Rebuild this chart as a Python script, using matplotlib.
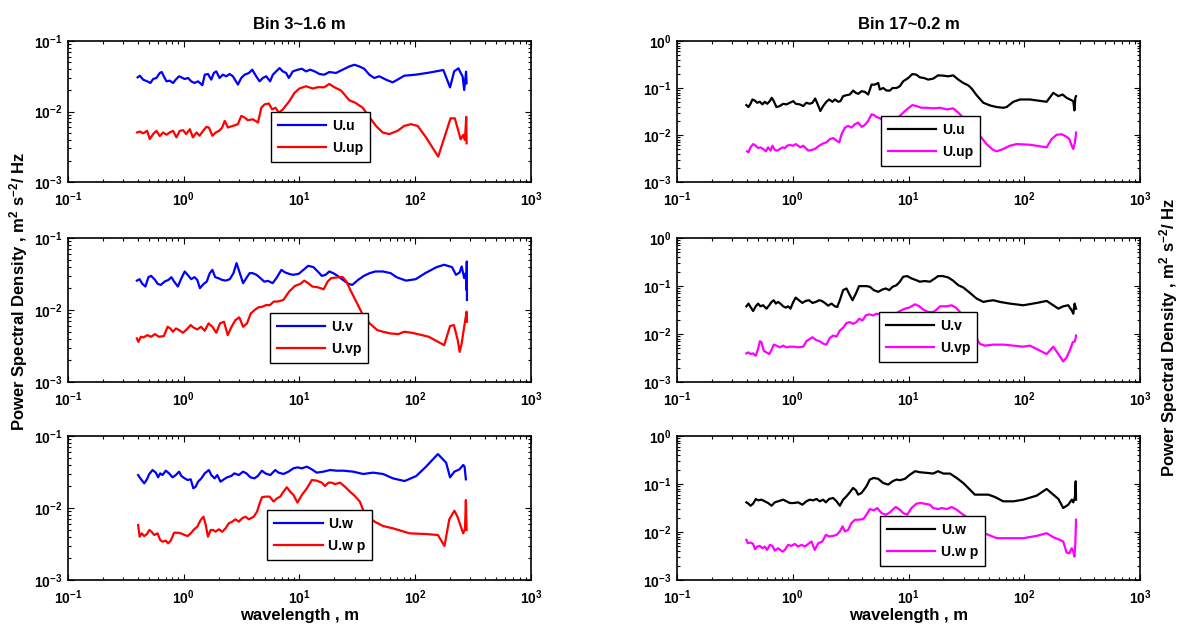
import matplotlib
matplotlib.use('Agg')
import matplotlib.pyplot as plt

plt.rcParams['font.family'] = ['Liberation Sans', 'DejaVu Sans']
plt.rcParams['font.weight'] = 'bold'
plt.rcParams['mathtext.fontset'] = 'custom'
plt.rcParams['mathtext.rm'] = 'Liberation Sans:bold'
plt.rcParams['mathtext.it'] = 'Liberation Sans:bold'
plt.rcParams['mathtext.bf'] = 'Liberation Sans:bold'
plt.rcParams['mathtext.sf'] = 'Liberation Sans:bold'
plt.rcParams['mathtext.default'] = 'rm'
plt.rcParams['axes.unicode_minus'] = False

# ---- Bin 3 (1.6 m) ----
uu_x = [0.40, 0.418, 0.446, 0.483, 0.516, 0.544, 0.581, 0.621, 0.646, 0.673,
        0.710, 0.757, 0.809, 0.853, 0.912, 0.955, 1.02, 1.09, 1.16, 1.24,
        1.33, 1.45, 1.52, 1.62, 1.73, 1.82, 1.91, 2.04, 2.18, 2.33,
        2.49, 2.66, 2.94, 3.14, 3.36, 3.66, 3.91, 4.23, 4.52, 4.83,
        5.16, 5.58, 5.89, 6.29, 6.73, 7.18, 7.67, 8.09, 8.77, 9.68,
        10.5, 11.4, 12.4, 13.5, 14.9, 16.4, 18.1, 20.7, 23.6, 27.0,
        29.8, 32.9, 36.3, 40.1, 44.3, 48.9, 55.9, 63.8, 70.4, 80.4,
        101, 132, 175, 200, 217, 236, 257, 265, 275, 278]
uu_y = [0.0305, 0.0322, 0.0283, 0.0268, 0.0254, 0.0289, 0.0299, 0.0352, 0.0363, 0.0316,
        0.0268, 0.0274, 0.0254, 0.0283, 0.0316, 0.0305, 0.0289, 0.0299, 0.0268, 0.0254,
        0.0268, 0.0236, 0.0333, 0.0340, 0.0283, 0.0352, 0.0371, 0.0299, 0.0333, 0.0316,
        0.0340, 0.0316, 0.0241, 0.0299, 0.0333, 0.0352, 0.0392, 0.0316, 0.0268, 0.0299,
        0.0316, 0.0268, 0.0333, 0.0371, 0.0413, 0.0371, 0.0352, 0.0299, 0.0371, 0.0392,
        0.0404, 0.0371, 0.0392, 0.0371, 0.0340, 0.0333, 0.0363, 0.0352, 0.0392, 0.0436,
        0.0460, 0.0436, 0.0404, 0.0333, 0.0299, 0.0316, 0.0283, 0.0259, 0.0283, 0.0322,
        0.0333, 0.0356, 0.0388, 0.0220, 0.0371, 0.0410, 0.0312, 0.0202, 0.0367, 0.0251]

uup_x = [0.396, 0.418, 0.446, 0.483, 0.509, 0.544, 0.581, 0.621, 0.664, 0.710,
         0.757, 0.809, 0.865, 0.924, 0.987, 1.05, 1.13, 1.20, 1.29, 1.37,
         1.47, 1.57, 1.65, 1.77, 1.89, 2.02, 2.15, 2.26, 2.41, 2.66,
         2.94, 3.14, 3.36, 3.59, 3.96, 4.38, 4.68, 4.99, 5.44, 5.81,
         6.21, 6.64, 7.18, 8.20, 9.06, 10.0, 11.4, 13.0, 14.4, 16.4,
         18.1, 20.0, 22.9, 27.0, 30.4, 35.2, 40.1, 45.8, 52.3, 59.7,
         70.4, 80.4, 91.8, 105, 124, 158, 202, 220, 247, 260,
         269, 276, 278]
uup_y = [0.00504, 0.00521, 0.00489, 0.00532, 0.00406, 0.00478, 0.00532, 0.00448, 0.00504, 0.00468,
         0.00504, 0.00532, 0.00429, 0.00532, 0.00543, 0.00478, 0.00561, 0.00429, 0.00504, 0.00453,
         0.00532, 0.00605, 0.00593, 0.00453, 0.00504, 0.00532, 0.00593, 0.00736, 0.00593, 0.00625,
         0.00661, 0.00865, 0.00819, 0.00752, 0.00776, 0.00697, 0.0113, 0.0126, 0.0130, 0.0107,
         0.0113, 0.00964, 0.0107, 0.0141, 0.0184, 0.0212, 0.0228, 0.0212, 0.0221, 0.0221,
         0.0246, 0.0221, 0.0198, 0.0144, 0.0133, 0.0113, 0.00837, 0.00625, 0.00504, 0.00478,
         0.00532, 0.00625, 0.00661, 0.00625, 0.00429, 0.00229, 0.0080, 0.0080, 0.00404, 0.00465,
         0.00394, 0.0084, 0.00354]

uv_x = [0.394, 0.416, 0.439, 0.467, 0.496, 0.523, 0.565, 0.596, 0.633, 0.683,
        0.738, 0.783, 0.826, 0.891, 0.941, 1.02, 1.10, 1.16, 1.24, 1.31,
        1.38, 1.49, 1.58, 1.68, 1.77, 1.87, 1.99, 2.14, 2.31, 2.50,
        2.69, 2.86, 3.02, 3.26, 3.52, 3.71, 3.94, 4.26, 4.60, 4.96,
        5.35, 5.86, 6.32, 6.98, 7.53, 8.14, 8.79, 9.84, 11.0, 11.9,
        13.2, 14.4, 15.6, 16.8, 18.1, 19.6, 21.4, 23.7, 26.5, 28.6,
        32.1, 36.0, 40.4, 45.3, 52.7, 61.4, 68.9, 83.3, 101, 122,
        153, 178, 208, 225, 242, 252, 265, 274, 277, 279, 280]
uv_y = [0.0256, 0.0268, 0.0231, 0.0212, 0.0286, 0.0298, 0.0262, 0.0231, 0.0223, 0.0248,
        0.0262, 0.0286, 0.0248, 0.0212, 0.0262, 0.0343, 0.0298, 0.0268, 0.0286, 0.0262,
        0.0201, 0.0231, 0.0248, 0.0325, 0.0361, 0.0286, 0.0277, 0.0262, 0.0256, 0.0268,
        0.0325, 0.0448, 0.0343, 0.0236, 0.0286, 0.0325, 0.0325, 0.0308, 0.0277, 0.0248,
        0.0254, 0.0236, 0.0277, 0.0361, 0.0332, 0.0318, 0.0308, 0.0318, 0.0369, 0.0411,
        0.0394, 0.0343, 0.0298, 0.0308, 0.0343, 0.0325, 0.0298, 0.0262, 0.0231, 0.0223,
        0.0262, 0.0298, 0.0325, 0.0343, 0.0343, 0.0325, 0.0286, 0.0256, 0.0268, 0.0325,
        0.0394, 0.0425, 0.0394, 0.0308, 0.0332, 0.0403, 0.0277, 0.0325, 0.0190, 0.0472, 0.0138]

uvp_x = [0.394, 0.406, 0.426, 0.449, 0.485, 0.523, 0.565, 0.610, 0.673, 0.726,
         0.766, 0.807, 0.858, 0.913, 0.984, 1.06, 1.15, 1.21, 1.31, 1.41,
         1.52, 1.64, 1.77, 1.91, 2.06, 2.23, 2.40, 2.59, 2.80, 3.02,
         3.26, 3.52, 3.80, 4.10, 4.42, 4.77, 5.15, 5.56, 6.00, 6.47,
         7.26, 8.14, 9.13, 10.2, 11.0, 11.9, 12.9, 14.4, 16.2, 17.5,
         18.8, 21.9, 23.7, 25.5, 27.5, 30.9, 36.0, 40.4, 47.0, 52.7,
         61.4, 71.5, 80.2, 93.3, 105, 131, 178, 200, 216, 233,
         242, 252, 265, 278, 280]
uvp_y = [0.00403, 0.00361, 0.00425, 0.00416, 0.00448, 0.00425, 0.00463, 0.00425, 0.00434, 0.00585,
         0.00555, 0.00499, 0.00555, 0.00526, 0.00483, 0.00537, 0.00618, 0.00573, 0.00537, 0.00585,
         0.00515, 0.00652, 0.00585, 0.00483, 0.00652, 0.00687, 0.00448, 0.00585, 0.00725, 0.00791,
         0.00585, 0.00652, 0.00898, 0.0100, 0.0109, 0.0111, 0.0117, 0.0117, 0.0131, 0.0131,
         0.0138, 0.0180, 0.0216, 0.0231, 0.0256, 0.0236, 0.0212, 0.0207, 0.0194, 0.0248,
         0.0277, 0.0286, 0.0286, 0.0248, 0.0190, 0.0131, 0.00807, 0.00652, 0.00526, 0.00499,
         0.00472, 0.00463, 0.00499, 0.00483, 0.00463, 0.00425, 0.00325, 0.00598, 0.00618, 0.00381,
         0.00262, 0.00343, 0.00585, 0.00948, 0.00687]

uw_x = [0.404, 0.416, 0.433, 0.456, 0.481, 0.504, 0.538, 0.574, 0.601, 0.626,
        0.656, 0.700, 0.748, 0.800, 0.854, 0.912, 0.955, 1.02, 1.08, 1.15,
        1.21, 1.27, 1.33, 1.42, 1.52, 1.65, 1.73, 1.85, 1.95, 2.08,
        2.22, 2.37, 2.57, 2.74, 2.99, 3.26, 3.48, 3.77, 4.08, 4.36,
        4.74, 5.07, 5.60, 6.18, 6.60, 7.28, 8.04, 8.87, 9.61, 10.5,
        11.6, 12.8, 14.1, 16.1, 18.4, 20.9, 23.9, 29.1, 35.5, 43.3,
        52.7, 64.3, 80.9, 102, 124, 157, 185, 200, 218, 241,
        260, 267, 274]
uw_y = [0.0287, 0.0267, 0.0245, 0.0220, 0.0250, 0.0297, 0.0337, 0.0310, 0.0267, 0.0303,
        0.0287, 0.0330, 0.0303, 0.0267, 0.0287, 0.0320, 0.0278, 0.0258, 0.0245, 0.0250,
        0.0188, 0.0198, 0.0232, 0.0258, 0.0303, 0.0337, 0.0287, 0.0258, 0.0287, 0.0232,
        0.0250, 0.0267, 0.0278, 0.0303, 0.0287, 0.0320, 0.0303, 0.0267, 0.0258, 0.0278,
        0.0330, 0.0303, 0.0287, 0.0337, 0.0310, 0.0297, 0.0320, 0.0356, 0.0367, 0.0356,
        0.0375, 0.0344, 0.0310, 0.0320, 0.0337, 0.0330, 0.0330, 0.0320, 0.0297, 0.0310,
        0.0297, 0.0258, 0.0237, 0.0278, 0.0375, 0.0562, 0.0426, 0.0267, 0.0320, 0.0344,
        0.0396, 0.0375, 0.0250]

uwp_x = [0.404, 0.416, 0.433, 0.456, 0.481, 0.504, 0.527, 0.556, 0.594, 0.626,
         0.656, 0.700, 0.733, 0.773, 0.826, 0.883, 0.943, 1.02, 1.08, 1.15,
         1.23, 1.31, 1.40, 1.48, 1.55, 1.62, 1.71, 1.80, 1.88, 2.01,
         2.15, 2.30, 2.45, 2.62, 2.80, 2.99, 3.19, 3.41, 3.65, 4.03,
         4.30, 4.53, 4.74, 5.07, 5.52, 5.98, 6.38, 6.82, 7.28, 7.78,
         8.31, 8.87, 9.61, 10.5, 11.6, 12.8, 14.1, 15.6, 16.6, 17.8,
         19.0, 20.3, 22.4, 24.7, 27.3, 30.1, 33.2, 36.0, 39.2, 44.7,
         52.7, 64.3, 89.3, 124, 157, 179, 197, 218, 233, 248,
         260, 269, 274, 278]
uwp_y = [0.00581, 0.00400, 0.00445, 0.00408, 0.00435, 0.00495, 0.00469, 0.00422, 0.00445, 0.00360,
         0.00341, 0.00352, 0.00323, 0.00352, 0.00454, 0.00454, 0.00445, 0.00422, 0.00408, 0.00445,
         0.00506, 0.00551, 0.00681, 0.00758, 0.00581, 0.00400, 0.00495, 0.00495, 0.00469, 0.00506,
         0.00469, 0.00522, 0.00612, 0.00646, 0.00697, 0.00646, 0.00718, 0.00758, 0.00697, 0.00758,
         0.00889, 0.0116, 0.0141, 0.0144, 0.0144, 0.0123, 0.0136, 0.0144, 0.0169, 0.0194,
         0.0169, 0.0152, 0.0119, 0.0152, 0.0188, 0.0245, 0.0240, 0.0225, 0.0202, 0.0225,
         0.0225, 0.0215, 0.0225, 0.0198, 0.0169, 0.0147, 0.0123, 0.00889, 0.00758, 0.00646,
         0.00562, 0.00522, 0.00445, 0.00435, 0.00422, 0.00297, 0.00697, 0.00918, 0.00742, 0.00551,
         0.00445, 0.00506, 0.0129, 0.00495]

# ---- Bin 17 (0.2 m) ----
su_x = [0.397, 0.414, 0.431, 0.448, 0.469, 0.492, 0.519, 0.547, 0.573, 0.600,
        0.633, 0.658, 0.685, 0.722, 0.772, 0.825, 0.882, 0.942, 1.01, 1.06,
        1.15, 1.23, 1.31, 1.40, 1.48, 1.56, 1.62, 1.73, 1.83, 1.95,
        2.06, 2.20, 2.31, 2.47, 2.58, 2.72, 2.91, 3.11, 3.32, 3.51,
        3.67, 3.93, 4.19, 4.48, 4.79, 5.12, 5.47, 5.65, 6.04, 6.45,
        6.90, 7.28, 7.87, 8.41, 8.99, 9.93, 10.8, 11.7, 12.5, 13.6,
        14.8, 16.3, 18.0, 20.0, 22.0, 24.3, 26.9, 29.7, 32.8, 35.1,
        38.7, 44.3, 50.5, 57.7, 65.8, 70.3, 80.4, 91.8, 112, 156,
        178, 197, 214, 232, 248, 265, 271, 276, 280]
su_y = [0.0433, 0.0393, 0.0462, 0.0570, 0.0543, 0.0485, 0.0509, 0.0448, 0.0509, 0.0462,
        0.0526, 0.0618, 0.0526, 0.0393, 0.0413, 0.0462, 0.0448, 0.0485, 0.0526, 0.0462,
        0.0448, 0.0413, 0.0485, 0.0462, 0.0485, 0.0598, 0.0485, 0.0324, 0.0413, 0.0509,
        0.0570, 0.0509, 0.0570, 0.0509, 0.0526, 0.0670, 0.0704, 0.0727, 0.0883, 0.0788,
        0.0751, 0.0855, 0.0828, 0.0727, 0.118, 0.118, 0.128, 0.0927, 0.100, 0.0883,
        0.0883, 0.100, 0.100, 0.109, 0.139, 0.163, 0.198, 0.192, 0.169, 0.163,
        0.151, 0.158, 0.186, 0.183, 0.177, 0.186, 0.151, 0.128, 0.114, 0.0973,
        0.0704, 0.0485, 0.0426, 0.0393, 0.0380, 0.0393, 0.0509, 0.0570, 0.0570, 0.0509,
        0.0788, 0.0670, 0.0727, 0.0618, 0.0570, 0.0526, 0.0334, 0.0618, 0.0670]

sup_x = [0.403, 0.414, 0.431, 0.454, 0.479, 0.501, 0.525, 0.554, 0.585, 0.612,
         0.642, 0.667, 0.699, 0.733, 0.772, 0.815, 0.853, 0.894, 0.942, 1.01,
         1.06, 1.11, 1.16, 1.23, 1.29, 1.36, 1.45, 1.55, 1.69, 1.83,
         1.95, 2.09, 2.23, 2.39, 2.52, 2.64, 2.82, 3.01, 3.21, 3.44,
         3.67, 3.93, 4.19, 4.48, 4.79, 5.01, 5.28, 5.65, 6.04, 6.45,
         6.90, 7.36, 7.87, 8.41, 8.99, 9.93, 10.8, 11.7, 12.9, 14.3,
         16.3, 18.7, 21.3, 24.3, 26.9, 29.7, 32.8, 36.2, 41.4, 47.2,
         54.0, 57.7, 65.8, 75.2, 85.9, 112, 156, 172, 190, 210,
         232, 245, 257, 265, 274, 280]
sup_y = [0.00450, 0.00428, 0.00546, 0.00641, 0.00592, 0.00528, 0.00546, 0.00503, 0.00450, 0.00546,
         0.00465, 0.00592, 0.00480, 0.00465, 0.00503, 0.00546, 0.00528, 0.00592, 0.00611, 0.00592,
         0.00641, 0.00592, 0.00546, 0.00592, 0.00528, 0.00465, 0.00480, 0.00503, 0.00592, 0.00663,
         0.00697, 0.00818, 0.00859, 0.00755, 0.00697, 0.0104, 0.0144, 0.0156, 0.0144, 0.0169,
         0.0184, 0.0149, 0.0164, 0.0199, 0.0275, 0.0267, 0.0242, 0.0227, 0.0206, 0.0193,
         0.0175, 0.0206, 0.0227, 0.0254, 0.0299, 0.0369, 0.0433, 0.0413, 0.0380, 0.0380,
         0.0369, 0.0380, 0.0351, 0.0369, 0.0299, 0.0234, 0.0193, 0.0149, 0.00962, 0.00641,
         0.00480, 0.00450, 0.00503, 0.00592, 0.00641, 0.00621, 0.00546, 0.00818, 0.0101, 0.0104,
         0.00916, 0.00818, 0.00592, 0.00503, 0.00697, 0.0113]

sv_x = [0.397, 0.414, 0.431, 0.454, 0.479, 0.501, 0.525, 0.554, 0.592, 0.626,
        0.655, 0.685, 0.713, 0.746, 0.782, 0.825, 0.869, 0.911, 0.955, 1.01,
        1.06, 1.13, 1.21, 1.29, 1.38, 1.48, 1.58, 1.69, 1.78, 1.89,
        2.02, 2.16, 2.31, 2.42, 2.55, 2.72, 2.91, 3.11, 3.28, 3.51,
        3.74, 4.00, 4.33, 4.63, 5.01, 5.47, 5.96, 6.37, 6.80, 7.28,
        7.87, 8.41, 8.99, 9.73, 10.6, 11.6, 12.5, 13.8, 15.3, 16.9,
        18.0, 19.7, 22.0, 24.3, 26.9, 29.7, 33.9, 38.7, 44.3, 48.9,
        54.0, 61.7, 75.2, 98.0, 128, 156, 178, 197, 217, 240,
        257, 265, 272, 280]
sv_y = [0.0378, 0.0430, 0.0366, 0.0301, 0.0378, 0.0430, 0.0378, 0.0397, 0.0337, 0.0397,
        0.0466, 0.0505, 0.0430, 0.0466, 0.0430, 0.0378, 0.0354, 0.0378, 0.0337, 0.0466,
        0.0575, 0.0505, 0.0444, 0.0489, 0.0505, 0.0444, 0.0466, 0.0505, 0.0489, 0.0444,
        0.0390, 0.0430, 0.0378, 0.0366, 0.0505, 0.0820, 0.0889, 0.0644, 0.0505, 0.0698,
        0.0995, 0.0995, 0.0995, 0.0963, 0.0820, 0.0756, 0.0847, 0.0889, 0.0820, 0.0963,
        0.104, 0.123, 0.156, 0.161, 0.144, 0.133, 0.123, 0.127, 0.123, 0.144,
        0.161, 0.161, 0.151, 0.129, 0.104, 0.0933, 0.0721, 0.0548, 0.0466, 0.0489,
        0.0505, 0.0466, 0.0430, 0.0397, 0.0444, 0.0489, 0.0397, 0.0337, 0.0378, 0.0397,
        0.0311, 0.0265, 0.0430, 0.0337]

svp_x = [0.397, 0.414, 0.431, 0.454, 0.479, 0.501, 0.519, 0.536, 0.561, 0.592,
         0.626, 0.655, 0.685, 0.722, 0.772, 0.825, 0.882, 0.942, 1.02, 1.11,
         1.23, 1.31, 1.40, 1.48, 1.58, 1.71, 1.85, 1.95, 2.09, 2.23,
         2.39, 2.55, 2.72, 2.91, 3.11, 3.32, 3.55, 3.74, 4.00, 4.27,
         4.57, 4.95, 5.28, 5.65, 6.24, 6.90, 7.62, 8.41, 9.29, 10.1,
         11.4, 12.4, 13.4, 14.8, 16.3, 17.5, 18.7, 21.3, 23.6, 25.7,
         27.8, 30.7, 33.9, 37.4, 41.4, 45.7, 54.0, 65.8, 80.4, 98.0,
         112, 128, 156, 178, 197, 217, 232, 248, 262, 274, 280]
svp_y = [0.00395, 0.00414, 0.00382, 0.00395, 0.00352, 0.00487, 0.00706, 0.00673, 0.00449, 0.00414,
         0.00382, 0.00464, 0.00601, 0.00573, 0.00528, 0.00573, 0.00528, 0.00545, 0.00545, 0.00528,
         0.00545, 0.00706, 0.00791, 0.00857, 0.00753, 0.00706, 0.00621, 0.00601, 0.00829, 0.00929,
         0.00885, 0.0118, 0.0135, 0.0169, 0.0177, 0.0163, 0.0177, 0.0208, 0.0192, 0.0244,
         0.0257, 0.0244, 0.0265, 0.0257, 0.0257, 0.0218, 0.0257, 0.0301, 0.0337, 0.0354,
         0.0416, 0.0378, 0.0322, 0.0287, 0.0287, 0.0322, 0.0378, 0.0378, 0.0397, 0.0354,
         0.0287, 0.0218, 0.0158, 0.00929, 0.00621, 0.00573, 0.00601, 0.00601, 0.00573, 0.00545,
         0.00573, 0.00487, 0.00382, 0.00545, 0.00382, 0.00268, 0.00325, 0.00464, 0.00673, 0.00706,
         0.00929]

sw_x = [0.397, 0.414, 0.431, 0.454, 0.479, 0.501, 0.536, 0.573, 0.612, 0.655,
        0.699, 0.746, 0.825, 0.882, 0.942, 1.02, 1.11, 1.21, 1.31, 1.40,
        1.50, 1.60, 1.71, 1.83, 1.93, 2.06, 2.23, 2.39, 2.55, 2.72,
        2.91, 3.11, 3.32, 3.51, 3.67, 3.93, 4.33, 4.63, 5.01, 5.47,
        6.04, 6.67, 7.28, 7.87, 8.41, 9.29, 10.3, 11.4, 12.5, 14.3,
        16.3, 18.0, 20.0, 22.8, 26.0, 29.7, 33.9, 37.4, 42.8, 48.9,
        55.7, 65.8, 80.4, 98.0, 128, 156, 178, 197, 217, 240,
        257, 265, 274, 278, 280]
sw_y = [0.0415, 0.0389, 0.0353, 0.0389, 0.0488, 0.0457, 0.0472, 0.0436, 0.0402, 0.0353,
        0.0415, 0.0436, 0.0472, 0.0436, 0.0402, 0.0402, 0.0415, 0.0371, 0.0436, 0.0472,
        0.0457, 0.0488, 0.0436, 0.0472, 0.0415, 0.0488, 0.0512, 0.0436, 0.0353, 0.0472,
        0.0555, 0.0673, 0.0828, 0.0740, 0.0601, 0.0652, 0.0898, 0.124, 0.134, 0.128,
        0.105, 0.0973, 0.114, 0.124, 0.120, 0.128, 0.157, 0.185, 0.176, 0.171,
        0.165, 0.185, 0.165, 0.165, 0.134, 0.105, 0.0764, 0.0601, 0.0601, 0.0601,
        0.0537, 0.0436, 0.0436, 0.0472, 0.0573, 0.0789, 0.0601, 0.0488, 0.0316, 0.0371,
        0.0472, 0.0415, 0.0537, 0.114, 0.0472]

swp_x = [0.397, 0.408, 0.431, 0.454, 0.472, 0.492, 0.519, 0.547, 0.573, 0.600,
         0.633, 0.667, 0.699, 0.746, 0.815, 0.853, 0.911, 0.973, 1.04, 1.11,
         1.19, 1.27, 1.36, 1.45, 1.55, 1.66, 1.80, 1.93, 2.06, 2.23,
         2.39, 2.55, 2.69, 2.82, 3.01, 3.21, 3.44, 3.67, 4.06, 4.33,
         4.63, 5.01, 5.36, 5.84, 6.37, 6.90, 7.28, 7.76, 8.41, 8.99,
         9.73, 10.6, 11.7, 12.7, 13.8, 15.3, 16.3, 18.0, 19.3, 21.3,
         23.6, 26.0, 29.7, 32.8, 36.2, 41.4, 48.9, 57.7, 70.3, 98.0,
         128, 156, 178, 203, 217, 232, 245, 257, 265, 271,
         276, 280]
swp_y = [0.00687, 0.00585, 0.00604, 0.00566, 0.00438, 0.00498, 0.00514, 0.00459, 0.00498, 0.00424,
         0.00540, 0.00514, 0.00410, 0.00459, 0.00391, 0.00424, 0.00540, 0.00514, 0.00566, 0.00498,
         0.00540, 0.00498, 0.00566, 0.00634, 0.00424, 0.00585, 0.00634, 0.00874, 0.00806, 0.00832,
         0.00874, 0.0103, 0.0131, 0.0103, 0.0111, 0.0153, 0.0180, 0.0180, 0.0186, 0.0229,
         0.0301, 0.0282, 0.0316, 0.0248, 0.0229, 0.0256, 0.0292, 0.0332, 0.0292, 0.0248,
         0.0229, 0.0316, 0.0389, 0.0402, 0.0389, 0.0371, 0.0316, 0.0301, 0.0316, 0.0301,
         0.0332, 0.0292, 0.0229, 0.0195, 0.0135, 0.0103, 0.00874, 0.00745, 0.00745, 0.00745,
         0.00832, 0.00946, 0.00780, 0.00687, 0.00634, 0.00373, 0.00361, 0.00459, 0.00391, 0.00308,
         0.00585, 0.0180]

titles = ['Bin 3~1.6 m', 'Bin 17~0.2 m']
ylabel = 'Power Spectral Density , m$^{2}$ s$^{-2}$/ Hz'

# panels: (row, col, x1, y1, label1, color1, x2, y2, label2, color2, legend anchor)
panels = [
    (0, 0, uu_x, uu_y, 'U.u', '#0000ff', uup_x, uup_y, 'U.up', '#ff0000', (0.423, 0.092)),
    (1, 0, uv_x, uv_y, 'U.v', '#0000ff', uvp_x, uvp_y, 'U.vp', '#ff0000', (0.421, 0.083)),
    (2, 0, uw_x, uw_y, 'U.w', '#0000ff', uwp_x, uwp_y, 'U.w p', '#ff0000', (0.415, 0.090)),
    (0, 1, su_x, su_y, 'U.u', 'black', sup_x, sup_y, 'U.up', '#ff00ff', (0.425, 0.064)),
    (1, 1, sv_x, sv_y, 'U.v', 'black', svp_x, svp_y, 'U.vp', '#ff00ff', (0.421, 0.090)),
    (2, 1, sw_x, sw_y, 'U.w', 'black', swp_x, swp_y, 'U.w p', '#ff00ff', (0.423, 0.050)),
]

col_left = [0.0575, 0.5728]
row_bottom = [0.7102, 0.3917, 0.0764]
row_height = [0.2245, 0.2293, 0.2293]
ax_width = 0.3917

fig = plt.figure(figsize=(11.82, 6.28), dpi=100)

for row, col, x1, y1, l1, c1, x2, y2, l2, c2, anchor in panels:
    ax = fig.add_axes([col_left[col], row_bottom[row], ax_width, row_height[row]])
    ax.plot(x1, y1, color=c1, lw=1.6, label=l1)
    ax.plot(x2, y2, color=c2, lw=1.6, label=l2)
    ax.set_xscale('log')
    ax.set_yscale('log')
    ax.set_xlim(0.1, 1000)
    if col == 0:
        ax.set_ylim(1e-3, 1e-1)
    else:
        ax.set_ylim(1e-3, 1e0)
    ax.tick_params(which='both', direction='in', top=True, right=True, labelsize=10, width=0.8)
    ax.tick_params(which='major', length=4)
    ax.tick_params(which='minor', length=2)
    ax.tick_params(axis='x', which='major', pad=6)
    ax.tick_params(axis='y', which='major', pad=4)
    for sp in ax.spines.values():
        sp.set_linewidth(1.2)
    leg = ax.legend(loc='lower left', bbox_to_anchor=anchor, fontsize=10, frameon=True,
                    fancybox=False, framealpha=1, edgecolor='black', handlelength=3.5,
                    handletextpad=0.4, labelspacing=0.6, borderpad=0.5)
    leg.get_frame().set_linewidth(1.0)
    if row == 0:
        ax.set_title(titles[col], fontsize=12, fontweight='bold', pad=9)
    if row == 2:
        ax.set_xlabel('wavelength , m', fontsize=12, fontweight='bold', labelpad=1)

fig.text(0.016, 0.536, ylabel, rotation=90, ha='center', va='center', fontsize=12, fontweight='bold')
fig.text(0.989, 0.462, ylabel, rotation=90, ha='center', va='center', fontsize=12, fontweight='bold')

fig.savefig('out.png', dpi=100)
